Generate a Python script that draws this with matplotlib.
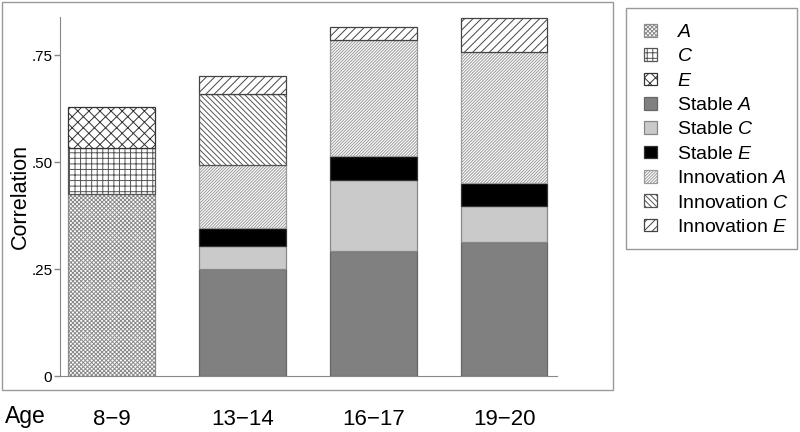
import matplotlib
matplotlib.use("Agg")
import matplotlib.pyplot as plt
from matplotlib.patches import Rectangle
import numpy as np

plt.rcParams['font.family'] = ['Liberation Sans', 'DejaVu Sans']
plt.rcParams['mathtext.fontset'] = 'custom'
plt.rcParams['mathtext.rm'] = 'Liberation Sans'
plt.rcParams['mathtext.it'] = 'Liberation Sans:italic'
plt.rcParams['hatch.linewidth'] = 0.7

ages = ['8\u22129', '13\u221214', '16\u221217', '19\u221220']
series_names = ['$\\mathit{A}$', '$\\mathit{C}$', '$\\mathit{E}$',
                'Stable $\\mathit{A}$', 'Stable $\\mathit{C}$', 'Stable $\\mathit{E}$',
                'Innovation $\\mathit{A}$', 'Innovation $\\mathit{C}$', 'Innovation $\\mathit{E}$']
A_vals = [0.425, 0, 0, 0]
C_vals = [0.107, 0, 0, 0]
E_vals = [0.096, 0, 0, 0]
stableA = [0, 0.249, 0.293, 0.313]
stableC = [0, 0.055, 0.164, 0.085]
stableE = [0, 0.042, 0.058, 0.054]
innovA = [0, 0.147, 0.271, 0.306]
innovC = [0, 0.165, 0, 0]
innovE = [0, 0.042, 0.030, 0.078]
yticks = [0, 0.25, 0.50, 0.75]
ytick_labels = ['0', '.25', '.50', '.75']

series = [A_vals, C_vals, E_vals, stableA, stableC, stableE, innovA, innovC, innovE]
styles = [
    dict(facecolor='white', hatch='x' * 8, edge='#8a8a8a'),
    dict(facecolor='white', hatch='+' * 3, edge='#555555'),
    dict(facecolor='white', hatch='xxx', edge='#333333'),
    dict(facecolor='#808080', hatch=None, edge='#666666'),
    dict(facecolor='#cacaca', hatch=None, edge='#888888'),
    dict(facecolor='black', hatch=None, edge='#333333'),
    dict(facecolor='white', hatch='/' * 11, edge='#9a9a9a'),
    dict(facecolor='white', hatch='\\' * 6, edge='#555555'),
    dict(facecolor='white', hatch='////', edge='#444444'),
]

fig = plt.figure(figsize=(8, 4.32), dpi=100)
W, H = 800, 432
ax = fig.add_axes([60 / W, 1 - 376 / H, 497 / W, (376 - 17) / H])

x = np.arange(len(ages))
bottom = np.zeros(len(ages))
handles = []
for vals, st, name in zip(series, styles, series_names):
    v = np.array(vals, dtype=float)
    m = v > 0
    b = ax.bar(x[m], v[m], bottom=bottom[m], width=0.664, facecolor=st['facecolor'],
               hatch=st['hatch'], edgecolor=st['edge'], linewidth=0.9, label=name)
    handles.append(b)
    bottom = bottom + v

ax.set_xlim(-0.397, 3.405)
ax.set_ylim(0, 0.839)
ax.set_yticks(yticks)
ax.set_yticklabels(ytick_labels, fontsize=11)
ax.set_xticks(x)
ax.set_xticklabels(ages, fontsize=16)
ax.tick_params(axis='x', length=0, pad=24)
ax.tick_params(axis='y', length=4, color='#888888', width=1, pad=1.5)
for s in ['top', 'right']:
    ax.spines[s].set_visible(False)
for s in ['left', 'bottom']:
    ax.spines[s].set_color('#888888')
ax.set_ylabel('Correlation', fontsize=15.5)
ax.yaxis.set_label_coords(-0.058, 0.5)

fig.text(5 / W, 1 - 416 / H, 'Age', fontsize=16.5, va='center', ha='left')

# outer frames
fig.patches.append(Rectangle((2 / W, 1 - 390 / H), 611 / W, 388 / H, transform=fig.transFigure,
                             fill=False, edgecolor='#999999', linewidth=1))
fig.patches.append(Rectangle((626 / W, 1 - 249 / H), 171 / W, 241 / H, transform=fig.transFigure,
                             fill=False, edgecolor='#999999', linewidth=1))

leg = fig.legend(handles=handles, labels=series_names, loc='upper left',
                 bbox_to_anchor=(644 / W, 1 - 24 / H), bbox_transform=fig.transFigure,
                 frameon=False, fontsize=14, handlelength=0.67, handleheight=0.62,
                 handletextpad=1.03, labelspacing=0.37, borderaxespad=0, borderpad=0)

fig.savefig('out.png', dpi=100)
